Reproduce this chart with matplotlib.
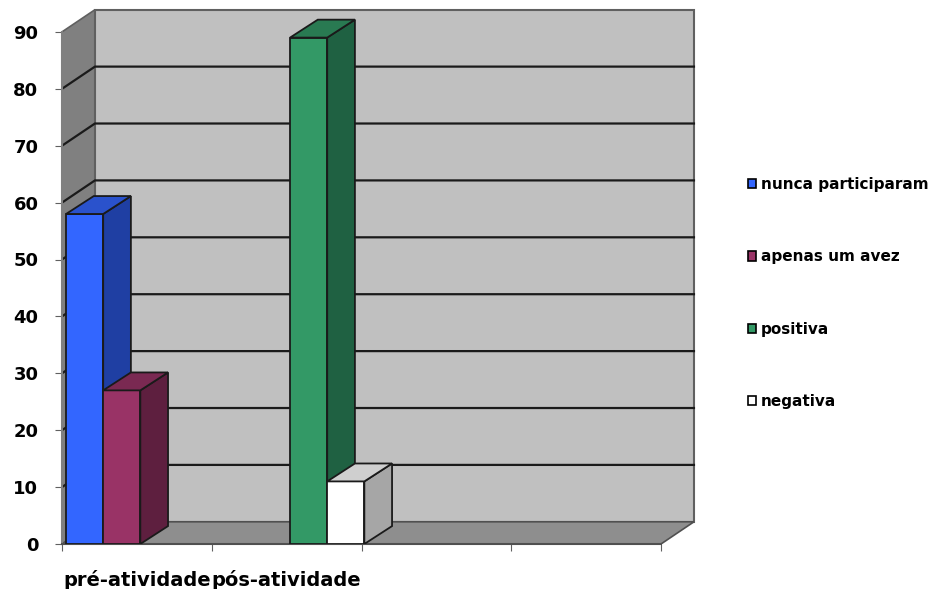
import numpy as np
import matplotlib.pyplot as plt
from matplotlib.patches import Polygon

plt.rcParams['font.family'] = ['DejaVu Sans']
plt.rcParams['font.weight'] = 'bold'

categories = ['pré-atividade', 'pós-atividade', '', '']
series = ['nunca participaram', 'apenas um avez', 'positiva', 'negativa']
nunca = [58, 0, 0, 0]
apenas = [27, 0, 0, 0]
positiva = [0, 89, 0, 0]
negativa = [0, 11, 0, 0]
values = [nunca, apenas, positiva, negativa]

# front, side, top colours for each series
front_col = ['#3366FF', '#993366', '#339966', '#FFFFFF']
side_col = ['#1F3FA3', '#5E1F3F', '#1F6142', '#A6A6A6']
top_col = ['#2A52CC', '#7A2952', '#297A52', '#CFCFCF']

# depth of the box and of the bars (in data units)
DX, DY = 0.22, 3.9
BDX, BDY = 0.185, 3.15
bw = 0.248
off = 0.027
ncat = len(categories)
ymax = 90

fig = plt.figure(figsize=(9.46, 5.89), dpi=100)
ax = fig.add_axes([62/946, 45/589, 4.26*149.75/946, 94.5*5.69/589])
ax.set_xlim(0, 4.26)
ax.set_ylim(0, 94.5)
ax.patch.set_visible(False)

# walls and floor
left_wall = Polygon([(0, 0), (DX, DY), (DX, ymax+DY), (0, ymax)],
                    closed=True, fc='#808080', ec='#606060', lw=1.2, zorder=1)
back_wall = Polygon([(DX, DY), (ncat+DX, DY), (ncat+DX, ymax+DY), (DX, ymax+DY)],
                    closed=True, fc='#C0C0C0', ec='#606060', lw=1.5, zorder=1)
floor = Polygon([(0, 0), (ncat, 0), (ncat+DX, DY), (DX, DY)],
                closed=True, fc='#8E8E8E', ec='#505050', lw=1.2, zorder=3)
for p in (left_wall, back_wall, floor):
    ax.add_patch(p)

for v in range(10, ymax, 10):
    ax.plot([0, DX, ncat+DX], [v, v+DY, v+DY], color='#1A1A1A', lw=1.6, zorder=2)

# bars, left to right so each front face covers the previous side face
for c in range(ncat):
    for i in range(len(series)):
        h = values[i][c]
        if h <= 0:
            continue
        x = c + off + i*bw
        ax.bar(x, h, width=bw, align='edge', color=front_col[i],
               edgecolor='#1A1A1A', linewidth=1.3, zorder=5)
        ax.add_patch(Polygon([(x+bw, 0), (x+bw+BDX, BDY), (x+bw+BDX, h+BDY), (x+bw, h)],
                             closed=True, fc=side_col[i], ec='#1A1A1A', lw=1.3, zorder=5))
        ax.add_patch(Polygon([(x, h), (x+bw, h), (x+bw+BDX, h+BDY), (x+BDX, h+BDY)],
                             closed=True, fc=top_col[i], ec='#1A1A1A', lw=1.3, zorder=5))

# legend handles
handles = [plt.Rectangle((0, 0), 1, 1, fc=front_col[i], ec='black', lw=1.2)
           for i in range(len(series))]
fig.legend(handles, series, loc='center left', bbox_to_anchor=(740/946, 1 - 293/589),
           frameon=False, fontsize=11, handlelength=0.55, handleheight=0.55,
           handletextpad=0.3, labelspacing=3.75, borderpad=0)

# axes
for s in ('top', 'right'):
    ax.spines[s].set_visible(False)
ax.spines['left'].set_bounds(0, ymax)
ax.spines['bottom'].set_bounds(0, ncat)
ax.spines['left'].set_color('#808080')
ax.spines['bottom'].set_color('#505050')
ax.spines['left'].set_linewidth(1.5)
ax.spines['bottom'].set_linewidth(1.5)
ax.spines['left'].set_zorder(4)
ax.spines['bottom'].set_zorder(4)

ax.set_yticks(range(0, ymax+1, 10))
ax.tick_params(axis='y', length=5, color='#606060', pad=12, labelsize=13)
ax.set_xticks(range(ncat+1))
ax.set_xticklabels([])
ax.tick_params(axis='x', which='major', length=5, color='#606060')
ax.set_xticks(np.arange(ncat) + 0.5, minor=True)
ax.set_xticklabels(categories, minor=True)
ax.tick_params(axis='x', which='minor', length=0, pad=19, labelsize=14)

plt.savefig('out.png', dpi=100)
